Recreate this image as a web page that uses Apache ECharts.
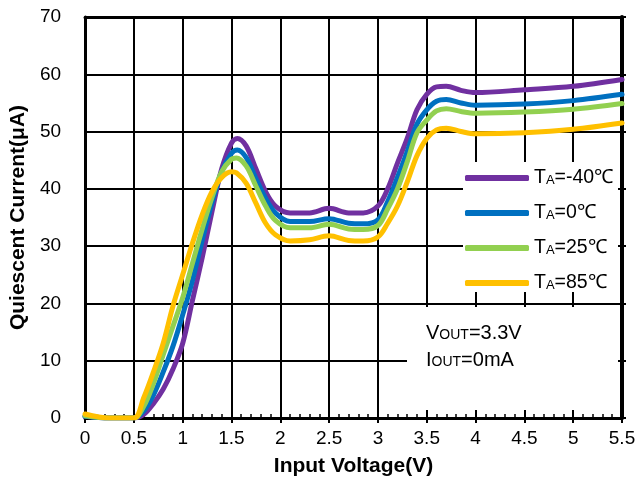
<!DOCTYPE html>
<html>
<head>
<meta charset="utf-8">
<script src="https://cdn.jsdelivr.net/npm/echarts@6/dist/echarts.min.js"></script>
<style>html,body{margin:0;padding:0;background:#fff}#c{width:639px;height:482px}</style>
</head>
<body>
<div id="c"></div>
<script>
var seriesNames = ['TA=-40℃', 'TA=0℃', 'TA=25℃', 'TA=85℃'];
var legendSuffix = ['=-40℃', '=0℃', '=25℃', '=85℃'];
var seriesColors = ['#7030A0', '#0070C0', '#92D050', '#FFC000'];
var xTicks = [0, 0.5, 1, 1.5, 2, 2.5, 3, 3.5, 4, 4.5, 5, 5.5];
var yTicks = [0, 10, 20, 30, 40, 50, 60, 70];

var tM40 = [[0,0.3],[0.25,0],[0.5,0],[0.6,0.6],[0.7,2.5],[0.8,5],[0.9,8.5],[1.0,13],[1.1,20.5],[1.2,28],[1.3,36],[1.4,43.5],[1.5,48],[1.56,48.8],[1.65,47.5],[1.75,43.5],[1.85,39.5],[1.95,37],[2.1,35.8],[2.3,35.8],[2.5,36.6],[2.7,35.8],[2.85,35.8],[3.0,37],[3.1,40],[3.2,44.5],[3.3,48.8],[3.4,53.8],[3.5,56.5],[3.6,57.8],[3.7,57.9],[3.85,57.2],[4.0,56.8],[4.5,57.3],[5.0,57.9],[5.5,59.1]];
var t0 = [[0,0.3],[0.25,0],[0.5,0],[0.6,1.2],[0.7,4],[0.8,8],[0.9,12.5],[1.0,18],[1.1,24],[1.2,31],[1.3,37.5],[1.4,43],[1.5,46.2],[1.56,46.8],[1.65,45.5],[1.75,41.8],[1.85,38.3],[1.95,35.8],[2.1,34.3],[2.3,34.3],[2.5,34.8],[2.7,34],[2.85,33.9],[3.0,34.6],[3.1,37.8],[3.2,42],[3.3,46.5],[3.4,51.3],[3.5,53.8],[3.6,55.3],[3.7,55.6],[3.85,55],[4.0,54.6],[4.5,54.8],[5.0,55.4],[5.5,56.5]];
var t25 = [[0,0.4],[0.25,0],[0.5,0],[0.6,2],[0.7,6],[0.8,11],[0.9,16],[1.0,21],[1.1,27],[1.2,33],[1.3,38.5],[1.4,43],[1.5,45.2],[1.55,45.4],[1.65,44],[1.75,40.5],[1.85,37],[1.95,34.5],[2.1,33.2],[2.3,33.2],[2.5,33.8],[2.7,33],[2.85,32.9],[3.0,33.6],[3.1,36.5],[3.2,40],[3.3,44.7],[3.4,49.8],[3.5,52],[3.6,53.6],[3.7,54],[3.85,53.5],[4.0,53.2],[4.5,53.4],[5.0,53.9],[5.5,54.9]];
var t85 = [[0,0.7],[0.25,0],[0.5,0],[0.6,3.5],[0.7,8],[0.8,13],[0.9,19.5],[1.0,25],[1.1,30.5],[1.2,35.5],[1.3,39.5],[1.4,42],[1.5,43],[1.55,42.8],[1.65,41],[1.75,37.5],[1.85,34],[1.95,32],[2.1,30.9],[2.3,31.1],[2.5,31.8],[2.7,31],[2.85,30.9],[3.0,31.6],[3.1,34],[3.2,37],[3.3,41.2],[3.4,45.8],[3.5,48.8],[3.6,50.3],[3.7,50.6],[3.85,50],[4.0,49.6],[4.5,49.8],[5.0,50.4],[5.5,51.5]];
var allData = [tM40, t0, t25, t85];

var FONT = '"Liberation Sans", Arial, sans-serif';
var chart = echarts.init(document.getElementById('c'), null, {renderer: 'canvas'});

var series = allData.map(function (d, i) {
  return {
    name: seriesNames[i],
    type: 'line',
    data: d,
    smooth: 0.35,
    showSymbol: false,
    symbol: 'none',
    lineStyle: {width: 5, color: seriesColors[i], cap: 'round', join: 'round'},
    itemStyle: {color: seriesColors[i]},
    z: 3,
    xAxisIndex: 0,
    yAxisIndex: 0
  };
});

var annRich = {
  m: {fontFamily: FONT, fontSize: 20, fill: '#000', lineHeight: 23, verticalAlign: 'bottom'},
  s: {fontFamily: FONT, fontSize: 14, fill: '#000', lineHeight: 17, verticalAlign: 'bottom', padding: [0, 0, 1, 0]}
};

var option = {
  animation: false,
  backgroundColor: '#fff',
  grid: {left: 85, right: 17, top: 17, bottom: 64, containLabel: false},
  xAxis: [{
    type: 'value', min: 0, max: 5.5, interval: 0.5,
    position: 'bottom',
    name: 'Input Voltage(V)', nameLocation: 'middle', nameGap: 38,
    nameTextStyle: {fontFamily: FONT, fontSize: 21, fontWeight: 'bold', color: '#000'},
    axisLine: {show: true, onZero: false, lineStyle: {color: '#000', width: 3}},
    axisTick: {show: true, inside: false, length: 5, lineStyle: {color: '#000', width: 2}},
    axisLabel: {fontFamily: FONT, fontSize: 19, color: '#000', margin: 11,
      formatter: function (v) { return xTicks.indexOf(v) >= 0 ? String(v) : ''; }},
    splitLine: {show: true, lineStyle: {color: '#000', width: 2}}
  }, {
    type: 'value', min: 0, max: 5.5, interval: 0.1,
    position: 'bottom', gridIndex: 0,
    axisLine: {show: false},
    axisTick: {show: true, inside: true, length: 4, lineStyle: {color: '#000', width: 1.5}},
    axisLabel: {show: false},
    splitLine: {show: false}
  }, {
    type: 'value', min: 0, max: 5.5, interval: 0.5,
    position: 'top',
    axisLine: {show: true, onZero: false, lineStyle: {color: '#000', width: 3}},
    axisTick: {show: false},
    axisLabel: {show: false},
    splitLine: {show: false}
  }],
  yAxis: [{
    type: 'value', min: 0, max: 70, interval: 10,
    position: 'left',
    name: 'Quiescent Current(μA)', nameLocation: 'middle', nameGap: 55, nameRotate: 90,
    nameTextStyle: {fontFamily: FONT, fontSize: 21, fontWeight: 'bold', color: '#000'},
    axisLine: {show: true, onZero: false, lineStyle: {color: '#000', width: 3}},
    axisTick: {show: false},
    axisLabel: {fontFamily: FONT, fontSize: 19, color: '#000', margin: 24,
      formatter: function (v) { return yTicks.indexOf(v) >= 0 ? String(v) : ''; }},
    splitLine: {show: true, lineStyle: {color: '#000', width: 2}}
  }, {
    type: 'value', min: 0, max: 70, interval: 10,
    position: 'right',
    axisLine: {show: true, onZero: false, lineStyle: {color: '#000', width: 4}},
    axisTick: {show: true, inside: false, length: 4, lineStyle: {color: '#000', width: 2}},
    axisLabel: {show: false},
    splitLine: {show: false}
  }],
  legend: {
    orient: 'vertical',
    left: 465, top: 168,
    padding: 0,
    itemGap: 15,
    itemWidth: 64, itemHeight: 6,
    icon: 'roundRect',
    z: 20,
    data: seriesNames.map(function (n, i) {
      return {name: n, itemStyle: {color: seriesColors[i]}};
    }),
    formatter: function (name) {
      var i = seriesNames.indexOf(name);
      return '{m|T}{s|A}{m|' + legendSuffix[i] + '}';
    },
    textStyle: {
      fontFamily: FONT, fontSize: 19.5, color: '#000', padding: [0, 0, 0, 0],
      rich: {
        m: {fontFamily: FONT, fontSize: 19.5, color: '#000', lineHeight: 20, verticalAlign: 'bottom'},
        s: {fontFamily: FONT, fontSize: 13, color: '#000', lineHeight: 14, verticalAlign: 'bottom', padding: [0, 0, 1, 0]}
      }
    }
  },
  graphic: [
    {type: 'rect', z: 10, shape: {x: 463, y: 162, width: 155, height: 130}, style: {fill: '#fff'}},
    {type: 'rect', z: 10, shape: {x: 407, y: 307, width: 211, height: 103}, style: {fill: '#fff'}},
    {type: 'text', z: 11, left: 426, top: 323, style: {text: '{m|V}{s|OUT}{m|=3.3V}', rich: annRich}},
    {type: 'text', z: 11, left: 426, top: 350, style: {text: '{m|I}{s|OUT}{m|=0mA}', rich: annRich}}
  ],
  series: series
};
chart.setOption(option);
</script>
</body>
</html>
